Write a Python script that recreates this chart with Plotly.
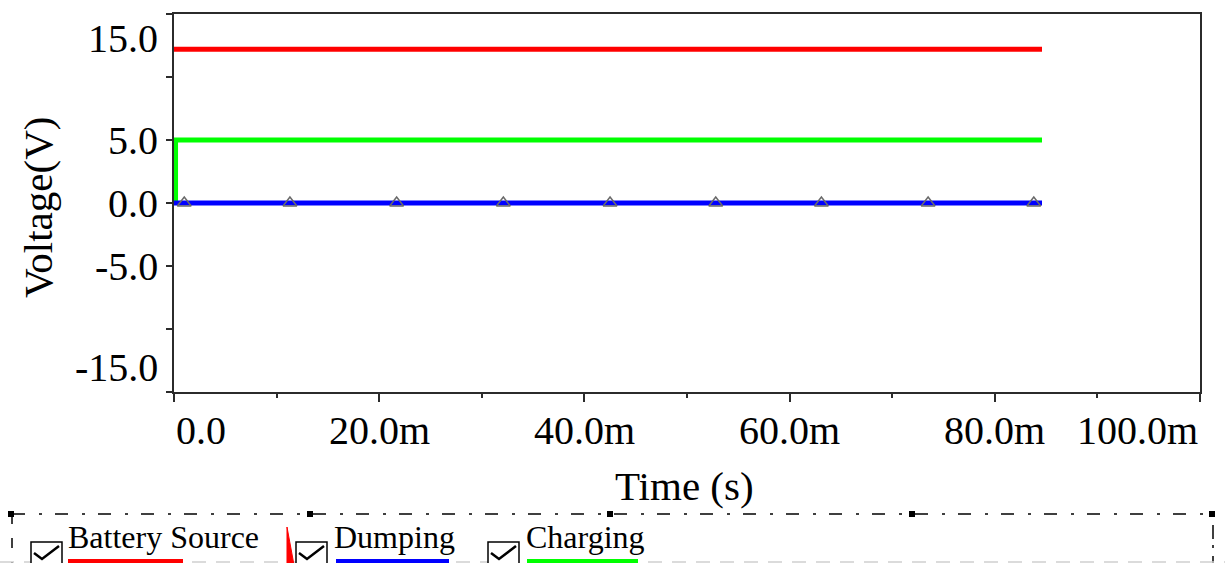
import plotly.graph_objects as go

# ---------------- data ----------------
battery_t = [0.0, 84.6]          # ms
battery_v = [12.2, 12.2]         # V
charging_t = [0.15, 0.15, 84.6]
charging_v = [0.0, 5.0, 5.0]
dumping_t = [0.0, 84.6]
dumping_v = [0.0, 0.0]
marker_t = [1.0, 11.3, 21.7, 32.1, 42.5, 52.8, 63.1, 73.5, 83.8]
marker_v = [0.0, 0.0, 0.0, 0.0, 0.0, 0.0, 0.0, 0.0, 0.0]

x_tick_vals = [0, 20, 40, 60, 80, 100]
x_tick_text = ["0.0", "20.0m", "40.0m", "60.0m", "80.0m", "100.0m"]
y_tick_vals = [15, 10, 5, 0, -5, -10, -15]
y_tick_text = ["15.0", "", "5.0", "0.0", "-5.0", "", "-15.0"]

legend_names = ["Battery Source", "Dumping", "Charging"]
legend_colors = ["#ff0000", "#0000ff", "#00ff00"]

# ---------------- layout helpers ----------------
W, H = 1225, 563
ML, MR, MT, MB = 174, 25, 14, 171
PW, PH = W - ML - MR, H - MT - MB
FONT = "Liberation Serif"
AX = "#2b2b2b"


def px(x):
    return (x - ML) / PW


def py(y):
    return (H - MB - y) / PH


fig = go.Figure()
fig.add_trace(go.Scatter(x=battery_t, y=battery_v, mode="lines",
                         line=dict(color=legend_colors[0], width=5), name=legend_names[0]))
fig.add_trace(go.Scatter(x=charging_t, y=charging_v, mode="lines",
                         line=dict(color=legend_colors[2], width=5), name=legend_names[2]))
fig.add_trace(go.Scatter(x=dumping_t, y=dumping_v, mode="lines",
                         line=dict(color=legend_colors[1], width=5), name=legend_names[1]))
fig.add_trace(go.Scatter(x=marker_t, y=marker_v, mode="markers",
                         marker=dict(symbol="triangle-up-open", size=12, color="#6a6a6a",
                                     line=dict(color="#6a6a6a", width=1.5)),
                         showlegend=False))

fig.update_xaxes(range=[0, 100], showline=True, linecolor=AX, linewidth=2, mirror=True,
                 ticks="outside", ticklen=8, tickwidth=2, tickcolor=AX,
                 tickvals=x_tick_vals, showticklabels=False, showgrid=False, zeroline=False,
                 minor=dict(dtick=10, tick0=0, ticks="outside", ticklen=4, tickwidth=2, tickcolor=AX,
                            showgrid=False))
fig.update_yaxes(range=[-15, 15], showline=True, linecolor=AX, linewidth=2, mirror=True,
                 ticks="outside", ticklen=6, tickwidth=2, tickcolor=AX,
                 tickvals=y_tick_vals, showticklabels=False, showgrid=False, zeroline=False)

ann = []
tf = dict(family=FONT, size=40, color="black")
# y tick labels (edge labels pushed inside the axis span)
n = len(y_tick_vals)
for i, (v, t) in enumerate(zip(y_tick_vals, y_tick_text)):
    if not t:
        continue
    anchor = "top" if i == 0 else ("bottom" if i == n - 1 else "middle")
    ann.append(dict(text=t, xref="paper", x=0, xanchor="right", xshift=-14,
                    yref="y", y=v, yanchor=anchor, showarrow=False, font=tf))
# x tick labels
n = len(x_tick_vals)
for i, (v, t) in enumerate(zip(x_tick_vals, x_tick_text)):
    anchor = "left" if i == 0 else ("right" if i == n - 1 else "center")
    ann.append(dict(text=t, xref="x", x=v, xanchor=anchor,
                    yref="paper", y=0, yanchor="top", yshift=-14, showarrow=False, font=tf))
# axis titles
ann.append(dict(text="Time (s)", xref="paper", x=px(684), yref="paper", y=py(486),
                xanchor="center", yanchor="middle", showarrow=False,
                font=dict(family=FONT, size=41, color="black")))
ann.append(dict(text="Voltage(V)", xref="paper", x=px(38), yref="paper", y=py(208),
                xanchor="center", yanchor="middle", textangle=-90, showarrow=False,
                font=dict(family=FONT, size=41, color="black")))

# ---------------- legend panel ----------------
shapes = []
dash = "13px,14px,3px,13px"
shapes.append(dict(type="line", xref="paper", yref="paper", x0=px(12), x1=px(1213), y0=py(514), y1=py(514),
                   line=dict(color="black", width=1.5, dash=dash)))
shapes.append(dict(type="line", xref="paper", yref="paper", x0=px(12), x1=px(12), y0=py(514), y1=py(575),
                   line=dict(color="black", width=1.5, dash="10px,14px")))
shapes.append(dict(type="line", xref="paper", yref="paper", x0=px(1213), x1=px(1213), y0=py(514), y1=py(575),
                   line=dict(color="black", width=1.5, dash="3px,8px,14px,6px")))
shapes.append(dict(type="line", xref="paper", yref="paper", x0=px(0), x1=px(1225), y0=py(562), y1=py(562),
                   line=dict(color="#d0d0d0", width=1.5, dash="14px,10px")))
for hx in [11, 310, 610, 912, 1212]:
    shapes.append(dict(type="rect", xref="paper", yref="paper", x0=px(hx - 3), x1=px(hx + 3),
                       y0=py(511), y1=py(517), fillcolor="black", line=dict(width=0)))

leg_box_x = [31, 296, 488]
leg_text_x = [66, 332, 524]
leg_line_x = [(68, 183), (336, 449), (527, 638)]
for i in range(3):
    bx = leg_box_x[i]
    shapes.append(dict(type="rect", xref="paper", yref="paper", x0=px(bx), x1=px(bx + 31),
                       y0=py(542), y1=py(575), fillcolor="white", line=dict(color="black", width=1.5)))
    path = "M %f,%f L %f,%f L %f,%f" % (px(bx + 3), py(553), px(bx + 11), py(559), px(bx + 28), py(546))
    shapes.append(dict(type="path", xref="paper", yref="paper", path=path,
                       line=dict(color="black", width=2.5)))
    lx0, lx1 = leg_line_x[i]
    shapes.append(dict(type="rect", xref="paper", yref="paper", x0=px(lx0), x1=px(lx1),
                       y0=py(559), y1=py(564), fillcolor=legend_colors[i], line=dict(width=0)))
    ann.append(dict(text=legend_names[i], xref="paper", x=px(leg_text_x[i]), xanchor="left",
                    yref="paper", y=py(537), yanchor="middle", showarrow=False,
                    font=dict(family=FONT, size=32, color="black")))
# red cursor mark
tri = "M %f,%f L %f,%f L %f,%f Z" % (px(287), py(527), px(287), py(565), px(294), py(565))
shapes.append(dict(type="path", xref="paper", yref="paper", path=tri, fillcolor="#ff0000",
                   line=dict(color="#ff0000", width=1)))

fig.update_layout(width=W, height=H, margin=dict(l=ML, r=MR, t=MT, b=MB),
                  plot_bgcolor="white", paper_bgcolor="white", showlegend=False,
                  annotations=ann, shapes=shapes)

fig.write_html("out.html")
